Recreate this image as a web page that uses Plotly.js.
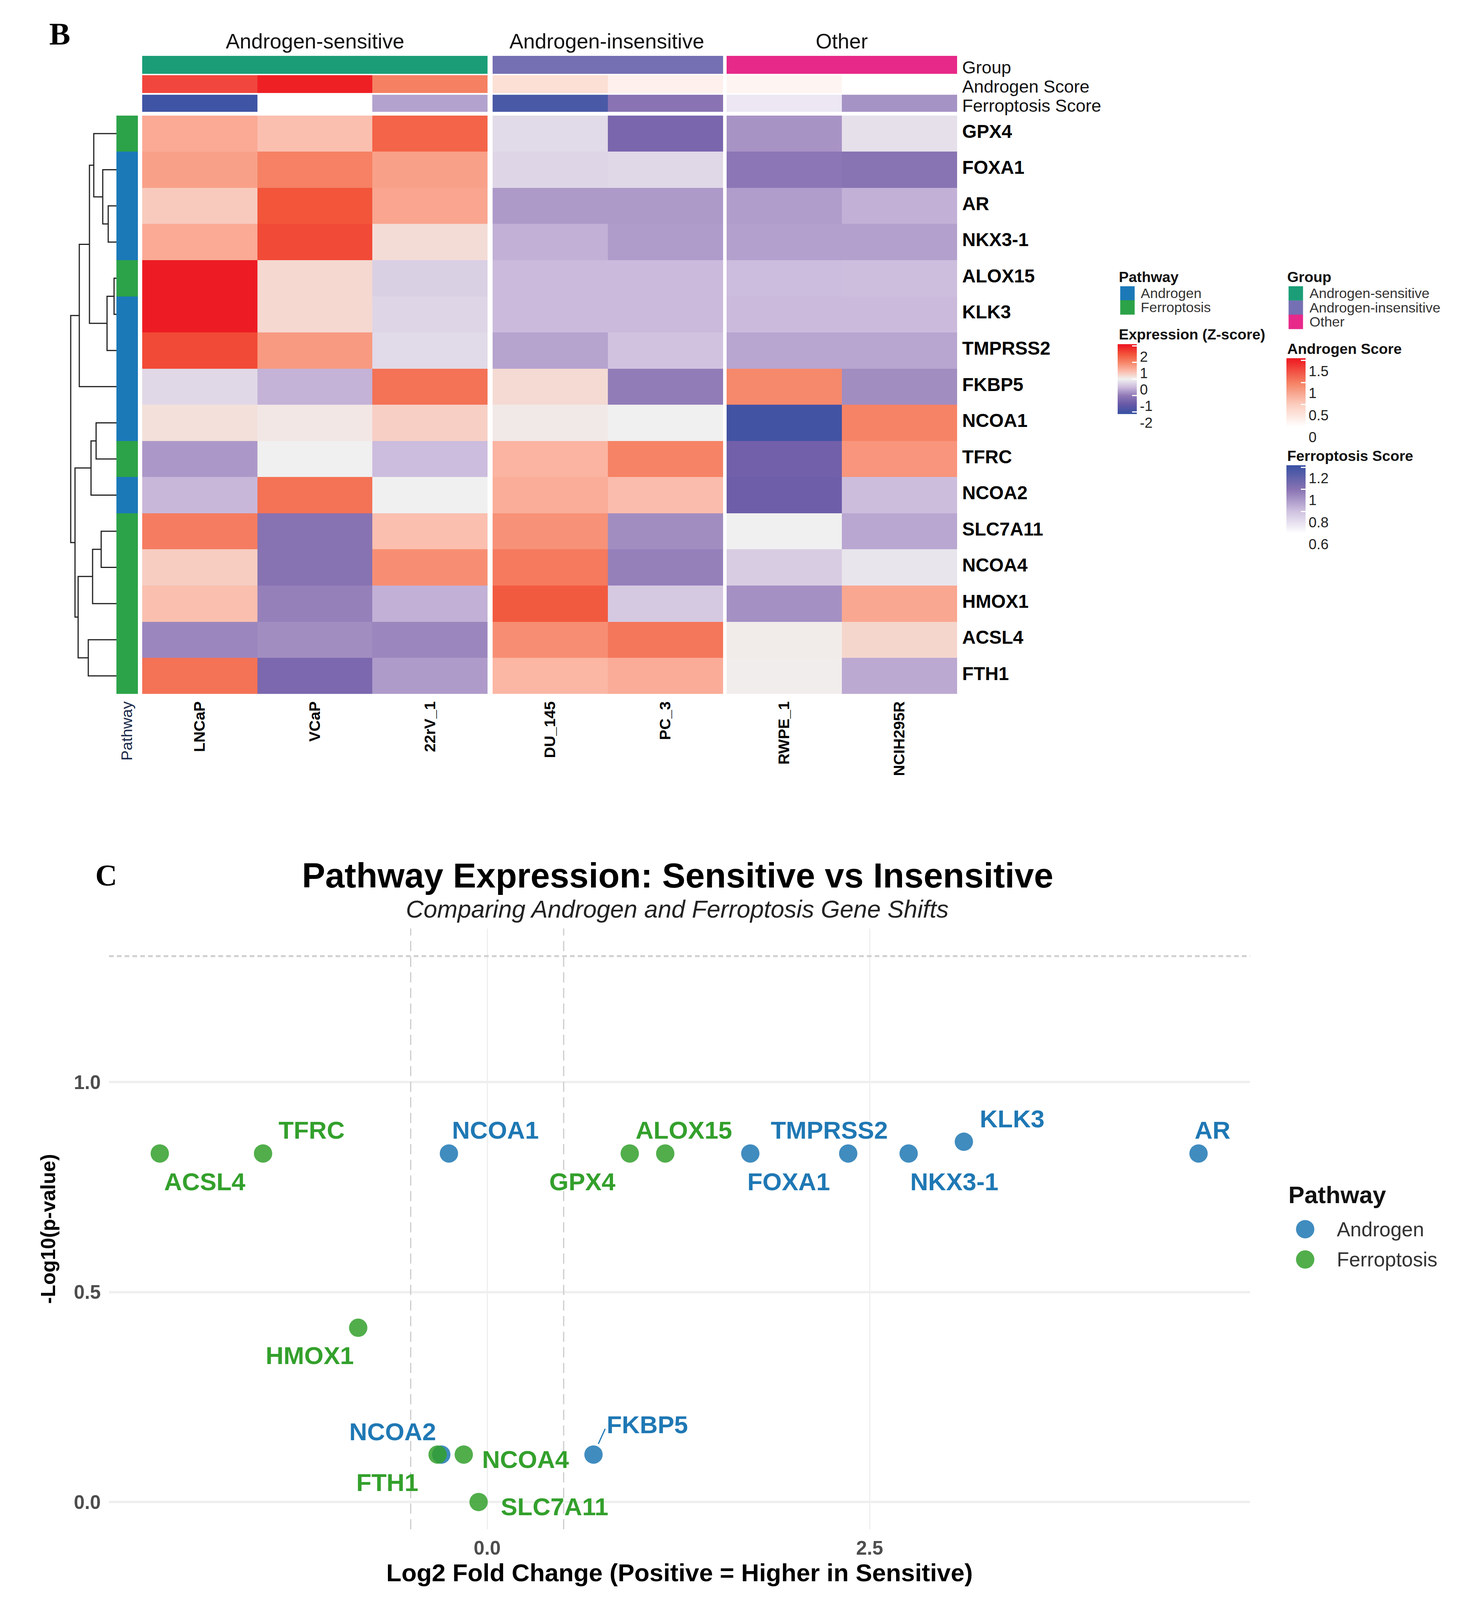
<!DOCTYPE html>
<html><head><meta charset="utf-8">
<script src="https://cdn.plot.ly/plotly-3.0.0.min.js"></script>
<style>html,body{margin:0;padding:0;background:#fff;overflow:hidden}</style></head>
<body><div id="chart"></div>
<script>
// ---------- DATA ----------
const genes = ['GPX4','FOXA1','AR','NKX3-1','ALOX15','KLK3','TMPRSS2','FKBP5','NCOA1','TFRC','NCOA2','SLC7A11','NCOA4','HMOX1','ACSL4','FTH1'];
const pathwayOfGene = ['F','A','A','A','F','A','A','A','A','F','A','F','F','F','F','F'];
const sensitiveLines = ['LNCaP','VCaP','22rV_1'];
const insensitiveLines = ['DU_145','PC_3'];
const otherLines = ['RWPE_1','NCIH295R'];
const zSensitive = [
 [0.65,0.45,1.35],[0.75,1.05,0.75],[0.35,1.5,0.7],[0.65,1.6,0.18],
 [2.0,0.22,-0.3],[2.0,0.22,-0.25],[1.6,0.8,-0.2],[-0.22,-0.56,1.2],
 [0.15,0.08,0.3],[-0.76,0,-0.48],[-0.52,1.2,0],[1.1,-1.12,0.45],
 [0.32,-1.12,0.92],[0.45,-0.95,-0.58],[-0.9,-0.85,-0.9],[1.2,-1.28,-0.74]];
const zInsensitive = [
 [-0.2,-1.3],[-0.25,-0.22],[-0.75,-0.75],[-0.58,-0.73],
 [-0.5,-0.5],[-0.5,-0.5],[-0.68,-0.42],[0.2,-0.98],
 [0.06,0],[0.55,1.03],[0.62,0.47],[0.88,-0.85],
 [1.12,-0.95],[1.45,-0.36],[0.92,1.15],[0.53,0.63]];
const zOther = [
 [-0.8,-0.15],[-1.05,-1.1],[-0.72,-0.58],[-0.7,-0.7],
 [-0.48,-0.46],[-0.5,-0.5],[-0.66,-0.66],[0.98,-0.85],
 [-1.95,1.03],[-1.4,0.85],[-1.45,-0.47],[0,-0.65],
 [-0.33,-0.1],[-0.82,0.68],[0.04,0.24],[0.03,-0.63]];
const androgenScore = {s:[1.3,1.5,1.0], i:[0.32,0.15], o:[0.1,0]};
const ferroScore    = {s:[1.2,0.6,0.88], i:[1.17,1.0], o:[0.68,0.92]};
// dendrogram merges: [id, left, right, height]
const merges = [
 ['m0','AR','NKX3-1',21],['m1','FOXA1','m0',35],['m2','GPX4','m1',58],
 ['m3','ALOX15','KLK3',6],['m4','m3','TMPRSS2',24],['m5','m2','m4',69],['m6','m5','FKBP5',95],
 ['m7','NCOA1','TFRC',52],['m8','m7','NCOA2',65],
 ['m9','SLC7A11','NCOA4',39],['m10','m9','HMOX1',61],['m11','ACSL4','FTH1',72],['m12','m10','m11',98],
 ['m13','m8','m12',106],['m14','m6','m13',117]];
// volcano
const androgenGenes = ['NCOA1','FOXA1','TMPRSS2','NKX3-1','KLK3','AR','NCOA2','FKBP5'];
const androgenLFC   = [-0.25,1.72,2.36,2.755,3.116,4.65,-0.3,0.695];
const androgenLogP  = [0.83,0.83,0.83,0.83,0.858,0.83,0.113,0.113];
const ferroGenes = ['ACSL4','TFRC','GPX4','ALOX15','HMOX1','FTH1','NCOA4','SLC7A11'];
const ferroLFC   = [-2.14,-1.465,0.932,1.164,-0.843,-0.324,-0.153,-0.056];
const ferroLogP  = [0.83,0.83,0.83,0.83,0.415,0.113,0.113,0.0];
const xTicks = [0,2.5], xTickText=['0.0','2.5'];
const yTicks = [0,0.5,1.0], yTickText=['0.0','0.5','1.0'];
const zExprTicks=[-2,-1,0,1,2], zAndroTicks=[0,0.5,1,1.5], zFerroTicks=[0.6,0.8,1,1.2];

// ---------- STYLE / LAYOUT ----------
const W=3745,H=5070;                              // reference frame for all positions
const PAGE_H=Math.min(H,window.innerHeight||H);   // the window may be shorter: fit it
const SY=PAGE_H/H, FS=SY<1?0.92:1;
const fs=s=>Math.round(s*FS*10)/10;
document.getElementById('chart').style.cssText='width:'+W+'px;height:'+PAGE_H+'px';
const fx=p=>p/W, fy=p=>1-p/H;
const dx=(a,b)=>[a/W,b/W], dy=(top,bot)=>[1-bot/H,1-top/H];
const SANS='"Liberation Sans",Arial,sans-serif', SERIF='"Liberation Serif","Times New Roman",serif';
const BLUE='#1F78B4', GREEN='#33A02C';
const stripBlue='#1B79B8', stripGreen='#2CA348';
const GROUPCOL=['#1B9E77','#7570B3','#E7298A'];
const EXPR=[[-2.12,'#3A53A4'],[-2,'#3F52A4'],[-1.5,'#6A5AA7'],[-1,'#9079B6'],[-0.5,'#CBBADC'],[0,'#F0F0F0'],[0.5,'#FBB9A8'],[1,'#F68669'],[1.5,'#F2553A'],[2,'#ED1C24'],[2.12,'#ED1C24']];
const ANDRO=[[0,'#FFFFFF'],[0.5,'#FBCDBE'],[1,'#F58062'],[1.5,'#EE2024'],[1.55,'#ED1C24']];
const FERRO=[[0.6,'#FFFFFF'],[0.8,'#CFC2E0'],[1,'#8973B3'],[1.2,'#3F54A4'],[1.22,'#3953A4']];
const norm=s=>{const a=s[0][0],b=s[s.length-1][0];return s.map(([v,c])=>[(v-a)/(b-a),c]);};
const zr=s=>({zmin:s[0][0],zmax:s[s.length-1][0],colorscale:norm(s)});
const cbar=(x,top,bot,ticks)=>({x:fx(x),xanchor:'left',xpad:0,ypad:0,y:fy(top),yanchor:'top',
  lenmode:'pixels',len:(bot-top)*SY,thicknessmode:'pixels',thickness:49,outlinewidth:0,
  tickmode:'array',tickvals:ticks,ticktext:ticks.map(String),ticks:'inside',ticklen:12,tickwidth:3,tickcolor:'#fff',
  ticklabelposition:'outside bottom',
  tickfont:{family:SANS,size:fs(40),color:'#222'}});

const colGroups=[
 {x:'x',cols:sensitiveLines,z:zSensitive,a:androgenScore.s,f:ferroScore.s,g:0},
 {x:'x2',cols:insensitiveLines,z:zInsensitive,a:androgenScore.i,f:ferroScore.i,g:1},
 {x:'x3',cols:otherLines,z:zOther,a:androgenScore.o,f:ferroScore.o,g:2}];
const traces=[];
colGroups.forEach((g,i)=>{
 traces.push(Object.assign({type:'heatmap',xaxis:g.x,yaxis:'y',x:g.cols,y:genes,z:g.z,showscale:i===0,hoverinfo:'x+y+z'},zr(EXPR),
   i===0?{colorbar:cbar(2861,1090,1312,zExprTicks)}:{}));
 traces.push({type:'heatmap',xaxis:g.x,yaxis:'y2',x:g.cols,y:['Group'],z:[g.cols.map(()=>g.g)],zmin:0,zmax:2,showscale:false,
   colorscale:[[0,GROUPCOL[0]],[0.5,GROUPCOL[1]],[1,GROUPCOL[2]]]});
 traces.push(Object.assign({type:'heatmap',xaxis:g.x,yaxis:'y3',x:g.cols,y:['Androgen Score'],z:[g.a],showscale:i===0},zr(ANDRO),
   i===0?{colorbar:cbar(3293,1135,1352,zAndroTicks)}:{}));
 traces.push(Object.assign({type:'heatmap',xaxis:g.x,yaxis:'y4',x:g.cols,y:['Ferroptosis Score'],z:[g.f],showscale:i===0},zr(FERRO),
   i===0?{colorbar:cbar(3293,1474,1690,zFerroTicks)}:{}));
});
// pathway strip
traces.push({type:'heatmap',xaxis:'x4',yaxis:'y',x:['Pathway'],y:genes,z:pathwayOfGene.map(p=>[p==='A'?0:1]),zmin:0,zmax:1,showscale:false,
  colorscale:[[0,stripBlue],[1,stripGreen]]});
// dendrogram from merge tree
(function(){
 const pos={},ht={};genes.forEach((g,i)=>{pos[g]=i;ht[g]=0;});
 const dxs=[],dys=[];
 merges.forEach(([id,a,b,h])=>{
  dxs.push(ht[a],h,h,ht[b],null);dys.push(pos[a],pos[a],pos[b],pos[b],null);
  pos[id]=(pos[a]+pos[b])/2;ht[id]=h;
 });
 traces.push({type:'scatter',mode:'lines',xaxis:'x5',yaxis:'y7',x:dxs,y:dys,line:{color:'#222',width:3},hoverinfo:'skip',showlegend:false});
})();
// volcano
traces.push({type:'scatter',mode:'markers',name:'Androgen',xaxis:'x6',yaxis:'y5',x:androgenLFC,y:androgenLogP,text:androgenGenes,
  marker:{size:47,color:BLUE,opacity:0.85},showlegend:false});
traces.push({type:'scatter',mode:'markers',name:'Ferroptosis',xaxis:'x6',yaxis:'y5',x:ferroLFC,y:ferroLogP,text:ferroGenes,
  marker:{size:47,color:GREEN,opacity:0.85},showlegend:false});

// legends drawn on a full-page hidden axis
const ann=[];
const legendItem=(name,col,mx,my,tx,size,sym,op,fsz,fc)=>{
 traces.push({type:'scatter',mode:'markers',xaxis:'x7',yaxis:'y6',x:[mx],y:[my],marker:{size:size,color:col,symbol:sym,opacity:op},hoverinfo:'skip',showlegend:false});
 ann.push({xref:'paper',yref:'paper',x:fx(tx),y:fy(my),xanchor:'left',yanchor:'middle',text:name,showarrow:false,font:{family:SANS,size:fs(fsz),color:fc}});
};
const txt=(t,x,y,size,o={})=>ann.push(Object.assign({xref:'paper',yref:'paper',x:fx(x),y:fy(y),xanchor:'center',yanchor:'middle',text:t,showarrow:false,
   font:{family:o.family||SANS,size:fs(size),color:o.color||'#111',weight:o.weight||'normal',style:o.style||'normal'}},o.a?{xanchor:o.a}:{}));
legendItem('Androgen',stripBlue,2886,930,2918,37,'square',1,39,'#333');
legendItem('Ferroptosis',stripGreen,2886,974,2918,37,'square',1,39,'#333');
legendItem('Androgen-sensitive',GROUPCOL[0],3317,930,3350,37,'square',1,39,'#333');
legendItem('Androgen-insensitive',GROUPCOL[1],3317,975,3350,37,'square',1,39,'#333');
legendItem('Other',GROUPCOL[2],3317,1020,3350,37,'square',1,39,'#333');
legendItem('Androgen',BLUE,3341,3895,3420,47,'circle',0.85,56,'#333');
legendItem('Ferroptosis',GREEN,3341,3991,3420,47,'circle',0.85,56,'#333');

txt('B',153,108,88,{family:SERIF,weight:'bold',color:'#000'});
txt('C',272,2774,84,{family:SERIF,weight:'bold',color:'#000'});
txt('Androgen-sensitive',806,130,58);
txt('Androgen-insensitive',1553,130,58);
txt('Other',2155,130,58);
txt('Pathway',2862,877,41,{weight:'bold',a:'left'});
txt('Group',3293,877,41,{weight:'bold',a:'left'});
txt('Expression (Z-score)',2862,1060,41,{weight:'bold',a:'left'});
txt('Androgen Score',3293,1105,41,{weight:'bold',a:'left'});
txt('Ferroptosis Score',3293,1445,41,{weight:'bold',a:'left'});
txt('Pathway Expression: Sensitive vs Insensitive',1734,2774,97,{weight:'bold',color:'#000'});
txt('Comparing Androgen and Ferroptosis Gene Shifts',1733,2880,68,{style:'italic',color:'#222'});
txt('Pathway',3296,3786,67,{weight:'bold',a:'left',color:'#111'});

// volcano gene labels: pixel offsets from each point
const labelOffsets={TFRC:[124,-74],ACSL4:[115,89],NCOA1:[119,-74],GPX4:[-122,89],ALOX15:[48,-74],TMPRSS2:[-48,-74],FOXA1:[98,89],
 'NKX3-1':[117,89],KLK3:[124,-73],AR:[36,-74],HMOX1:[-124,88],NCOA2:[-125,-73],FTH1:[-129,88],NCOA4:[158,15],FKBP5:[138,-95],SLC7A11:[194,15]};
const addLabels=(names,xs,ys,col)=>names.forEach((n,i)=>{
 const o=labelOffsets[n];
 ann.push({xref:'x6',yref:'y5',x:xs[i],y:ys[i],xshift:o[0],yshift:-o[1]*SY,text:n,showarrow:false,xanchor:'center',yanchor:'middle',
   font:{family:SANS,size:fs(69),weight:'bold',color:col}});
});
addLabels(androgenGenes,androgenLFC,androgenLogP,BLUE);
addLabels(ferroGenes,ferroLFC,ferroLogP,GREEN);
// FKBP5 connector
const fk=androgenGenes.indexOf('FKBP5');
ann.push({xref:'x6',yref:'y5',axref:'pixel',ayref:'pixel',x:androgenLFC[fk],y:androgenLogP[fk],ax:33,ay:-90*SY,text:' ',showarrow:true,arrowhead:0,arrowwidth:3,arrowcolor:BLUE,standoff:30});

const hide={visible:false,showgrid:false,zeroline:false,showticklabels:false,ticks:''};
const colAxis=(dom,anchor='y')=>({domain:dom,anchor:anchor,type:'category',showgrid:false,zeroline:false,ticks:'',showline:false,
  tickangle:-90,tickfont:{family:SANS,size:fs(43),weight:'bold',color:'#000'},ticklabelstandoff:10});
const rowLabel=(dom,shift)=>({domain:dom,anchor:'x3',side:'right',type:'category',showgrid:false,zeroline:false,ticks:'',showline:false,
  tickfont:{family:SANS,size:fs(49),color:'#111'},ticklabelstandoff:12,ticklabelshift:shift});
const layout={
 width:W,height:PAGE_H,autosize:false,margin:{l:0,r:0,t:0,b:0,pad:0},paper_bgcolor:'#fff',plot_bgcolor:'rgba(0,0,0,0)',showlegend:false,
 annotations:ann,
 xaxis:colAxis(dx(364,1248)),xaxis2:colAxis(dx(1261,1851)),xaxis3:colAxis(dx(1860,2450)),
 xaxis4:Object.assign(colAxis(dx(298,353)),{tickfont:{family:SANS,size:fs(43),color:'#1a2a4a'}}),
 xaxis5:Object.assign({},hide,{domain:dx(170,298),anchor:'y7',range:[128,0]}),
 xaxis6:{domain:dx(279,3200),anchor:'y5',range:[-2.472,4.987],tickmode:'array',tickvals:xTicks,ticktext:xTickText,showgrid:true,gridcolor:'#EFEFEF',gridwidth:3,zeroline:false,ticks:'',
   tickfont:{family:SANS,size:fs(54),weight:'bold',color:'#4D4D4D'},ticklabelstandoff:14,
   title:{text:'Log2 Fold Change (Positive = Higher in Sensitive)',font:{family:SANS,size:fs(69),weight:'bold',color:'#000'},standoff:8}},
 xaxis7:Object.assign({},hide,{domain:[0,1],anchor:'y6',range:[0,W]}),
 yaxis:Object.assign(rowLabel(dy(366,2199),6),{range:[15.5,-0.5],tickfont:{family:SANS,size:fs(52),weight:'bold',color:'#000'},tickmode:'array',tickvals:genes,ticktext:genes}),
 yaxis2:rowLabel(dy(177,234),6),yaxis3:rowLabel(dy(238,295),6),yaxis4:rowLabel(dy(300,355),6),
 yaxis5:{domain:dy(2942,4846),anchor:'x6',range:[-0.065,1.366],tickmode:'array',tickvals:yTicks,ticktext:yTickText,showgrid:true,gridcolor:'#EFEFEF',gridwidth:6,zeroline:false,ticks:'',
   tickfont:{family:SANS,size:fs(54),weight:'bold',color:'#4D4D4D'},ticklabelstandoff:20,
   title:{text:'-Log10(p-value)',font:{family:SANS,size:fs(56),weight:'bold',color:'#000'},standoff:30}},
 yaxis6:Object.assign({},hide,{domain:[0,1],anchor:'x7',range:[H,0]}),
 yaxis7:Object.assign({},hide,{domain:dy(366,2199),anchor:'x5',range:[15.5,-0.5]}),
 shapes:[
  {type:'line',xref:'x6',yref:'paper',x0:-0.5,x1:-0.5,y0:fy(4846),y1:fy(2942),line:{color:'#CCCCCC',width:3,dash:'26px,14px'}},
  {type:'line',xref:'x6',yref:'paper',x0:0.5,x1:0.5,y0:fy(4846),y1:fy(2942),line:{color:'#CCCCCC',width:3,dash:'26px,14px'}},
  {type:'line',xref:'paper',yref:'y5',x0:fx(279),x1:fx(3200),y0:1.3,y1:1.3,line:{color:'#D0D0D0',width:5,dash:'12px,8px'}}
 ]
};
Plotly.newPlot('chart',traces,layout,{displayModeBar:false,staticPlot:true});
</script></body></html>
